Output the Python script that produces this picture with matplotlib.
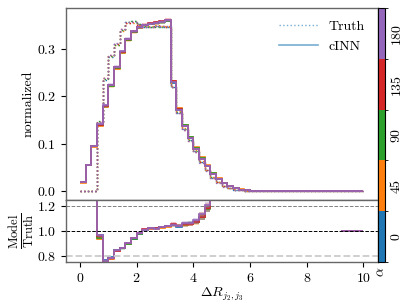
import numpy as np
import matplotlib
matplotlib.use('Agg')
import matplotlib.pyplot as plt
from matplotlib.colors import ListedColormap, BoundaryNorm
import matplotlib.colorbar as mcolorbar

plt.rcParams['font.family'] = 'serif'
plt.rcParams['font.serif'] = ['cmr10']
plt.rcParams['mathtext.fontset'] = 'cm'
plt.rcParams['axes.formatter.use_mathtext'] = True
plt.rcParams['font.size'] = 10

# bins of Delta R (width 0.2 from 0 to 10)
edges = np.linspace(0, 10, 51)
alphas = [0, 45, 90, 135, 180]
colors = ['tab:blue', 'tab:orange', 'tab:green', 'tab:red', 'tab:purple']

# first 30 bins per alpha
cinn_0 = [0.018, 0.056, 0.095, 0.140, 0.180, 0.224, 0.262, 0.294, 0.321, 0.337, 0.345, 0.350, 0.353, 0.355, 0.357,
          0.360, 0.229, 0.172, 0.137, 0.113, 0.090, 0.069, 0.052, 0.037, 0.025, 0.016, 0.010, 0.0055, 0.003, 0.0015]
cinn_45 = [0.017, 0.055, 0.094, 0.137, 0.177, 0.221, 0.259, 0.292, 0.319, 0.336, 0.345, 0.350, 0.353, 0.355, 0.357,
           0.360, 0.232, 0.176, 0.140, 0.115, 0.092, 0.071, 0.054, 0.039, 0.027, 0.017, 0.011, 0.006, 0.0033, 0.0017]
cinn_90 = [0.018, 0.055, 0.095, 0.139, 0.179, 0.223, 0.261, 0.293, 0.320, 0.337, 0.346, 0.351, 0.354, 0.356, 0.357,
           0.360, 0.231, 0.174, 0.139, 0.114, 0.090, 0.069, 0.053, 0.038, 0.026, 0.0165, 0.0105, 0.0058, 0.0031, 0.0016]
cinn_135 = [0.018, 0.056, 0.096, 0.140, 0.180, 0.224, 0.262, 0.294, 0.321, 0.338, 0.347, 0.352, 0.355, 0.357, 0.359,
            0.362, 0.232, 0.173, 0.137, 0.112, 0.089, 0.068, 0.052, 0.037, 0.025, 0.016, 0.010, 0.0055, 0.003, 0.0015]
cinn_180 = [0.018, 0.056, 0.096, 0.141, 0.181, 0.225, 0.263, 0.295, 0.322, 0.338, 0.346, 0.351, 0.354, 0.356, 0.358,
            0.361, 0.230, 0.172, 0.137, 0.112, 0.089, 0.068, 0.052, 0.037, 0.025, 0.016, 0.010, 0.0055, 0.003, 0.0015]

truth_0 = [0, 0, 0, 0.145, 0.235, 0.284, 0.310, 0.340, 0.358, 0.359, 0.353, 0.347, 0.346, 0.348, 0.347,
           0.347, 0.219, 0.166, 0.131, 0.107, 0.084, 0.062, 0.044, 0.028, 0.018, 0.010, 0.0055, 0.003, 0.0015, 0.0008]
truth_45 = [0, 0, 0, 0.146, 0.238, 0.286, 0.308, 0.338, 0.355, 0.356, 0.352, 0.348, 0.348, 0.350, 0.349,
            0.348, 0.222, 0.169, 0.134, 0.109, 0.086, 0.063, 0.045, 0.029, 0.019, 0.011, 0.006, 0.0033, 0.0016, 0.0008]
truth_90 = [0, 0, 0, 0.147, 0.236, 0.285, 0.309, 0.341, 0.358, 0.360, 0.354, 0.348, 0.346, 0.347, 0.346,
            0.346, 0.220, 0.167, 0.132, 0.107, 0.084, 0.062, 0.045, 0.029, 0.018, 0.010, 0.0056, 0.003, 0.0015, 0.0008]
truth_135 = [0, 0, 0, 0.146, 0.239, 0.287, 0.311, 0.342, 0.356, 0.357, 0.352, 0.346, 0.346, 0.348, 0.348,
             0.347, 0.219, 0.166, 0.130, 0.106, 0.083, 0.061, 0.044, 0.028, 0.018, 0.010, 0.0055, 0.003, 0.0015, 0.0008]
truth_180 = [0, 0, 0, 0.146, 0.238, 0.288, 0.312, 0.343, 0.357, 0.358, 0.353, 0.347, 0.347, 0.349, 0.348,
             0.348, 0.219, 0.165, 0.129, 0.105, 0.082, 0.060, 0.043, 0.027, 0.017, 0.0095, 0.0053, 0.003, 0.0015, 0.0008]

# shared tail (bins 30-49)
tail_cinn = [0.0008, 0.0005, 0.0004, 0.0003, 0.0003, 0.0002, 0.0002, 0, 0, 0,
             0, 0, 0, 0, 0, 0, 0.0001, 0.0001, 0.0001, 0.0001]
tail_truth = [0.0004, 0.0002, 0.0001, 0.0001, 0.0001, 0, 0, 0, 0, 0,
              0, 0, 0, 0, 0, 0, 0.0001, 0.0001, 0.0001, 0.0001]

cinn_err = [0.001, 0.0015, 0.002, 0.002, 0.0025, 0.003, 0.003, 0.003, 0.003, 0.003, 0.003, 0.003, 0.003, 0.003, 0.003,
            0.003, 0.0025, 0.002, 0.002, 0.0018, 0.0016, 0.0014, 0.0012, 0.001, 0.0008, 0.0006, 0.0004, 0.0003, 0.0002, 0.0001,
            0.0001, 0, 0, 0, 0, 0, 0, 0, 0, 0, 0, 0, 0, 0, 0, 0, 0, 0, 0, 0]

cinn_all = [cinn_0, cinn_45, cinn_90, cinn_135, cinn_180]
truth_all = [truth_0, truth_45, truth_90, truth_135, truth_180]

fig = plt.figure(figsize=(4.07, 3.05), dpi=100)
ax = fig.add_axes([0.1617, 0.3443, 0.766, 0.6295])
axr = fig.add_axes([0.1617, 0.141, 0.766, 0.2033])
cax = fig.add_axes([0.9277, 0.141, 0.0184, 0.8328])


def safe_ratio(num, den):
    with np.errstate(divide='ignore', invalid='ignore'):
        r = num / den
    r[np.isinf(r)] = 1e3
    return r


err = np.array(cinn_err)
for c, t, col in zip(cinn_all, truth_all, colors):
    c = np.array(c + tail_cinn)
    t = np.array(t + tail_truth)
    ax.stairs(c + err, edges, baseline=c - err, fill=True, color=col, alpha=0.3, lw=0)
    ax.stairs(t, edges, baseline=None, color=col, ls=':', lw=1.0)
    ax.stairs(c, edges, baseline=None, color=col, lw=1.2)
    ratio = safe_ratio(c, t)
    r_lo = safe_ratio(c - err, t)
    r_hi = safe_ratio(c + err, t)
    axr.stairs(r_hi, edges, baseline=r_lo, fill=True, color=col, alpha=0.3, lw=0)
    axr.stairs(ratio, edges, baseline=None, color=col, lw=1.2)

ax.plot([], [], ls=':', color='tab:blue', alpha=0.6, lw=1.0, label='Truth')
ax.plot([], [], ls='-', color='tab:blue', alpha=0.6, lw=1.2, label='cINN')
ax.legend(loc='upper right', frameon=False, fontsize=10, handlelength=2.8)

axr.axhline(1.2, color='0.5', ls='--', lw=0.7)
axr.axhline(1.0, color='k', ls='--', lw=0.7)
axr.axhline(0.8, color='0.8', ls='--', lw=1.3)

ax.set_xlim(-0.5, 10.5)
axr.set_xlim(-0.5, 10.5)
ax.set_ylim(-0.019, 0.387)
axr.set_ylim(0.75, 1.25)
ax.set_yticks([0.0, 0.1, 0.2, 0.3])
axr.set_yticks([0.8, 1.0, 1.2])
axr.set_xticks([0, 2, 4, 6, 8, 10])
ax.tick_params(axis='x', bottom=False, labelbottom=False)
ax.set_ylabel('normalized')
axr.set_ylabel(r'$\frac{\mathrm{Model}}{\mathrm{Truth}}$', fontsize=13)
axr.set_xlabel(r'$\Delta R_{j_2,j_3}$', labelpad=1)
ax.yaxis.set_label_coords(-0.1, 0.5)
axr.yaxis.set_label_coords(-0.095, 0.5)

for a in (ax, axr):
    for s in a.spines.values():
        s.set_color('0.4')
        s.set_linewidth(1.0)

cmap = ListedColormap(colors)
norm = BoundaryNorm([-22.5, 22.5, 67.5, 112.5, 157.5, 202.5], cmap.N)
cb = mcolorbar.ColorbarBase(cax, cmap=cmap, norm=norm, ticks=alphas)
cb.ax.set_yticklabels([str(a) for a in alphas], rotation=90, va='center')
cb.ax.tick_params(length=0, pad=4)
cb.ax.set_xlabel(r'$\alpha$', rotation=90, labelpad=3)

fig.savefig('out.png', dpi=100)
